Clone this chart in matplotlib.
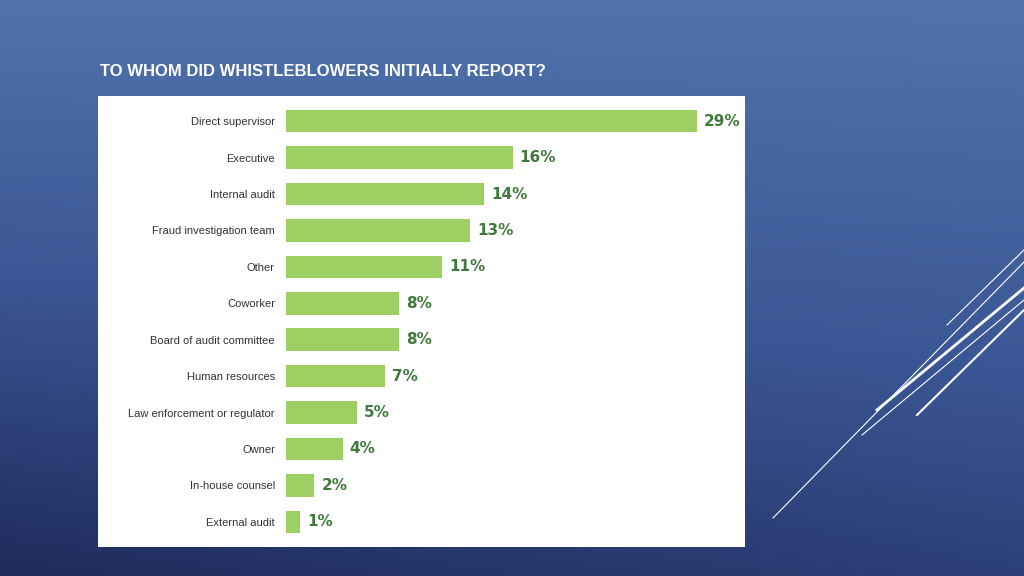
import numpy as np
import matplotlib
matplotlib.use("Agg")
import matplotlib.pyplot as plt
from matplotlib.colors import LinearSegmentedColormap

categories = ["Direct supervisor", "Executive", "Internal audit", "Fraud investigation team",
              "Other", "Coworker", "Board of audit committee", "Human resources",
              "Law enforcement or regulator", "Owner", "In-house counsel", "External audit"]
values = [29, 16, 14, 13, 11, 8, 8, 7, 5, 4, 2, 1]
title = "TO WHOM DID WHISTLEBLOWERS INITIALLY REPORT?"

W, H = 1024, 576
fig = plt.figure(figsize=(W/100, H/100), dpi=100)

# gradient background
bg = fig.add_axes([0, 0, 1, 1])
cmap = LinearSegmentedColormap.from_list("bg", ["#5073ad", "#3a5593", "#1f2b5c"])
yy = np.linspace(0, 1, 200)[:, None]
xx = np.linspace(0, 1, 200)[None, :]
grad = 0.75*yy + 0.25*(1-xx)*yy
bg.imshow(grad, cmap=cmap, aspect="auto", extent=[0, W, H, 0])
bg.set_xlim(0, W); bg.set_ylim(H, 0); bg.axis("off")
# decorative lines
for (x1, y1, x2, y2, lw) in [(773, 518, 1024, 262, 0.8), (877, 410, 1024, 288, 2.0),
                              (917, 415, 1024, 310, 1.5), (947, 325, 1024, 250, 0.8),
                              (862, 435, 1024, 300, 0.8)]:
    bg.plot([x1, x2], [y1, y2], color="white", lw=lw)
bg.text(100, 72, title, color="white", fontsize=12, fontweight="bold", va="center", ha="left",
        family="Liberation Sans")

# white panel
def fa(x0, y0, x1, y1):
    return fig.add_axes([x0/W, 1-y1/H, (x1-x0)/W, (y1-y0)/H])
panel = fa(98, 96, 745, 547)
panel.set_facecolor("white"); panel.set_xticks([]); panel.set_yticks([])
for s in panel.spines.values(): s.set_visible(False)

ax = fa(286, 103, 745, 540)
ax.patch.set_alpha(0)
pos = np.arange(len(values))
ax.barh(pos, values, height=0.62, color="#9dcf62")
ax.set_xlim(0, (745-286)/14.17)
ax.set_ylim(11.5, -0.5)
for p, v in zip(pos, values):
    ax.text(v + 0.5, p, f"{v}%", va="center", ha="left", color="#3f7a3c",
            fontsize=11, fontweight="bold", family="Liberation Sans Narrow")
ax.set_yticks(pos)
ax.set_yticklabels(categories, fontsize=8, color="#333333", family="Liberation Sans")
ax.tick_params(axis="y", length=0, pad=8)
ax.set_xticks([])
for s in ax.spines.values(): s.set_visible(False)

fig.savefig("out.png", dpi=100)
